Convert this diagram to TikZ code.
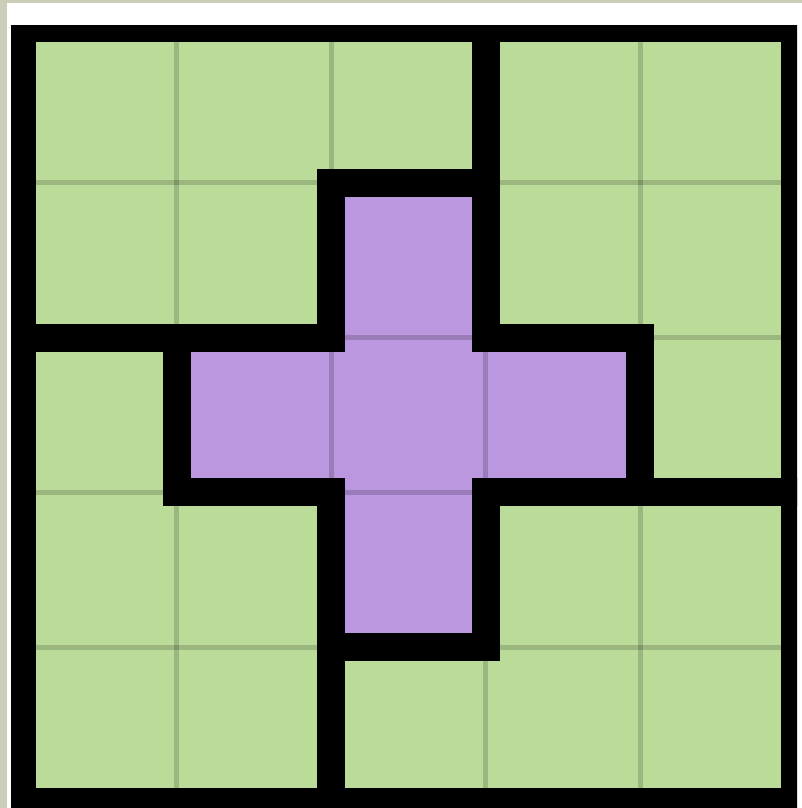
\documentclass[tikz,border=0pt]{standalone}
\definecolor{beige}{RGB}{204,206,186}
\definecolor{cellgreen}{RGB}{187,219,152}
\definecolor{cellpurple}{RGB}{186,151,222}
\tikzset{
  piecegreen/.style={fill=cellgreen},
  piecepurple/.style={fill=cellpurple},
  outline/.style={draw=black,line width=28pt,line join=miter},
  gridline/.style={draw=black,draw opacity=0.17,line width=5pt}
}
\begin{document}
\begin{tikzpicture}[x=1pt,y=-1pt]
\useasboundingbox (0,0) rectangle (802,808);
\fill[beige] (0,0) rectangle (802,808);
\fill[white] (7,3) rectangle (802,808);
\fill[black] (11,26) rectangle (797,808);
\begin{scope}
\clip (11,26) rectangle (797,808);
\begin{scope}[shift={(22,28)},x=154.5pt,y=-154.8pt]
  % piece fills
  \path[piecegreen] (0,0)--(3,0)--(3,1)--(2,1)--(2,2)--(0,2)--cycle;
  \path[piecegreen] (3,0)--(5,0)--(5,3)--(4,3)--(4,2)--(3,2)--cycle;
  \path[piecepurple] (2,1)--(3,1)--(3,2)--(4,2)--(4,3)--(3,3)--(3,4)--(2,4)--(2,3)--(1,3)--(1,2)--(2,2)--cycle;
  \path[piecegreen] (0,2)--(1,2)--(1,3)--(2,3)--(2,5)--(0,5)--cycle;
  \path[piecegreen] (3,3)--(5,3)--(5,5)--(2,5)--(2,4)--(3,4)--cycle;
  % thin cell lines
  \foreach \k in {1,2,3,4}{
    \path[gridline] (\k,0)--(\k,5);
    \path[gridline] (0,\k)--(5,\k);
  }
  % piece outlines
  \path[outline] (0,0)--(3,0)--(3,1)--(2,1)--(2,2)--(0,2)--cycle;
  \path[outline] (3,0)--(5,0)--(5,3)--(4,3)--(4,2)--(3,2)--cycle;
  \path[outline] (2,1)--(3,1)--(3,2)--(4,2)--(4,3)--(3,3)--(3,4)--(2,4)--(2,3)--(1,3)--(1,2)--(2,2)--cycle;
  \path[outline] (0,2)--(1,2)--(1,3)--(2,3)--(2,5)--(0,5)--cycle;
  \path[outline] (3,3)--(5,3)--(5,5)--(2,5)--(2,4)--(3,4)--cycle;
\end{scope}
\end{scope}
\end{tikzpicture}
\end{document}
